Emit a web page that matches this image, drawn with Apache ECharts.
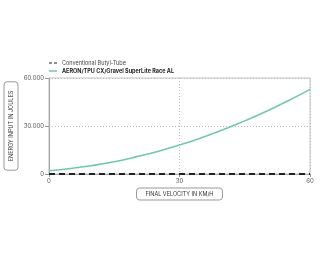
<!DOCTYPE html>
<html><head><meta charset="utf-8">
<script src="https://cdn.jsdelivr.net/npm/echarts@6/dist/echarts.min.js"></script>
<style>html,body{margin:0;padding:0;background:#fff}#c{width:320px;height:260px}</style>
</head><body><div id="c"></div>
<script>
const velocity = [0, 5, 10, 15, 20, 25, 30, 35, 40, 45, 50, 55, 60];
const aeronEnergy = [2000, 3400, 5300, 7700, 10700, 14100, 18100, 22600, 27600, 33200, 39200, 45800, 52900];
const butylVelocity = [0, 60];
const butylEnergy = [0, 0];
const seriesNames = ['Conventional Butyl-Tube', 'AERON/TPU CX/Gravel SuperLite Race AL'];
const xTicks = [0, 30, 60];
const yTicks = [0, 30000, 60000];

const fmt = v => String(v).replace(/\B(?=(\d{3})+(?!\d))/g, '.');
const font = 'Inter, "DejaVu Sans", sans-serif';
const chart = echarts.init(document.getElementById('c'), null, {renderer: 'canvas'});
chart.setOption({
  animation: false,
  textStyle: {fontFamily: font},
  grid: {left: 49, right: 10, top: 78, bottom: 86, show: true, borderColor: '#c4c4c4', borderWidth: 1,
         containLabel: false, outerBoundsMode: 'none'},
  legend: {
    left: 44, top: 55, orient: 'vertical', itemWidth: 8, itemHeight: 1.5, itemGap: 2,
    data: [
      {name: seriesNames[0], icon: 'path://M0,0h3v1h-3zM5,0h3v1h-3z', itemStyle: {color: '#222'}},
      {name: seriesNames[1], icon: 'rect', itemStyle: {color: '#72c7ae'}}
    ],
    formatter: n => n === seriesNames[1] ? '{b|' + n + '}' : '{n|' + n + '}',
    textStyle: {fontSize: 5.5, color: '#333', fontFamily: font,
      rich: {n: {fontSize: 5.5, color: '#444', fontFamily: font}, b: {fontSize: 5.5, fontWeight: 'bold', color: '#222', fontFamily: font}}}
  },
  xAxis: {
    type: 'value', min: xTicks[0], max: xTicks[2], interval: 30,
    name: 'FINAL VELOCITY IN KM/H', nameLocation: 'middle', nameGap: 14, nameMoveOverlap: false,
    nameTextStyle: {fontSize: 5.5, color: '#333', fontFamily: font, borderColor: '#999', borderWidth: 1, borderRadius: 3, padding: [3, 9, 3, 9]},
    axisLine: {show: true, lineStyle: {color: '#aaa'}},
    axisTick: {show: true, length: 3, lineStyle: {color: '#999'}},
    axisLabel: {fontSize: 6, color: '#555', margin: 4},
    splitLine: {show: true, lineStyle: {color: '#bbb', type: [1, 2]}}
  },
  yAxis: {
    type: 'value', min: yTicks[0], max: yTicks[2], interval: 30000,
    name: 'ENERGY INPUT IN JOULES', nameLocation: 'middle', nameGap: 31, nameRotate: 90, nameMoveOverlap: false,
    nameTextStyle: {fontSize: 5.5, color: '#333', fontFamily: font, borderColor: '#999', borderWidth: 1, borderRadius: 3, padding: [4, 9, 4, 9]},
    axisLine: {show: true, lineStyle: {color: '#aaa', width: 1.2}},
    axisTick: {show: true, length: 4, lineStyle: {color: '#999'}},
    axisLabel: {fontSize: 6, color: '#555', margin: 5, formatter: fmt},
    splitLine: {show: true, lineStyle: {color: '#bbb', type: [1, 2]}}
  },
  series: [
    {name: seriesNames[0], type: 'line', symbol: 'none', z: 5,
     data: butylVelocity.map((v, i) => [v, butylEnergy[i]]),
     itemStyle: {color: '#222'},
     lineStyle: {color: '#222', width: 2, type: [6, 4]}},
    {name: seriesNames[1], type: 'line', symbol: 'none', smooth: true,
     data: velocity.map((v, i) => [v, aeronEnergy[i]]),
     itemStyle: {color: '#72c7ae'},
     lineStyle: {color: '#72c7ae', width: 1.6}}
  ]
});
</script></body></html>
